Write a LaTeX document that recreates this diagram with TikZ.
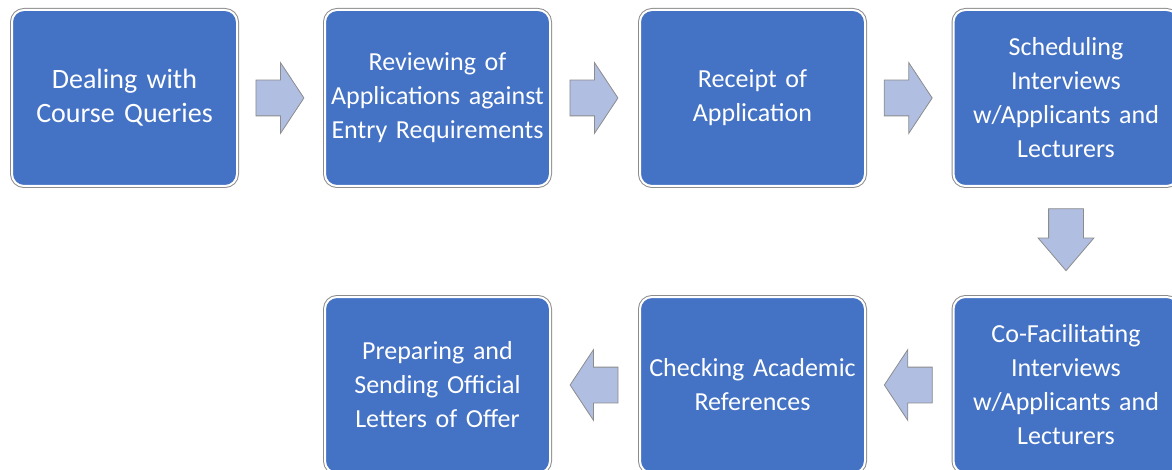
\documentclass[tikz,border=0pt]{standalone}
\usepackage{fontspec}
\setmainfont{Carlito}
\usetikzlibrary{shapes.arrows,calc}
\definecolor{stage_blue}{RGB}{68, 114, 196}
\definecolor{arrow_blue}{RGB}{176, 190, 226}
\definecolor{edge_grey}{RGB}{140, 140, 140}
\tikzstyle{stage}=[rectangle,rounded corners=12pt,fill=stage_blue,draw=white,
  line width=2pt,preaction={draw=edge_grey,line width=4pt},text=white,
  align=center,text width=219pt,minimum width=225pt,minimum height=176pt,
  inner sep=0pt,font=\fontsize{26}{34}\selectfont]
\tikzstyle{rarrow}=[single arrow,fill=arrow_blue,draw=edge_grey,line width=0.8pt,
  inner xsep=0pt,inner ysep=17.5pt,minimum height=48pt,
  single arrow head extend=17.5pt,single arrow tip angle=113]
\tikzstyle{darrow}=[rarrow,shape border rotate=270,minimum height=62pt,
  inner xsep=17pt,inner ysep=0pt,single arrow head extend=10.5pt,
  single arrow tip angle=81]
\tikzstyle{larrow}=[rarrow,shape border rotate=180]
\begin{document}
\begin{tikzpicture}[x=1pt,y=-1pt]
    \useasboundingbox (0,0) rectangle (1172,470);
    \clip (0,0) rectangle (1172,470);
    \node [style=stage,font=\fontsize{28}{34}\selectfont] (1) at (124.5, 98) {Dealing with\\Course Queries};
    \node [style=stage] (2) at (437.5, 98) {Reviewing of\\Applications against\\Entry Requirements};
    \node [style=stage] (3) at (752.5, 98) {Receipt of\\Application};
    \node [style=stage] (4) at (1066, 98) {Scheduling\\Interviews\\w/Applicants and\\Lecturers};
    \node [style=stage] (5) at (1066, 385) {Co-Facilitating\\Interviews\\w/Applicants and\\Lecturers};
    \node [style=stage] (6) at (752.5, 385) {Checking Academic\\References};
    \node [style=stage] (7) at (437.5, 385) {Preparing and\\Sending Official\\Letters of Offer};
    \node [style=rarrow,xshift=-7pt] (a1) at ($(1.east)!0.5!(2.west)$) {};
    \node [style=rarrow,xshift=-7pt] (a2) at ($(2.east)!0.5!(3.west)$) {};
    \node [style=rarrow,xshift=-7pt] (a3) at ($(3.east)!0.5!(4.west)$) {};
    \node [style=darrow,yshift=12pt] (a4) at ($(4.south)!0.5!(5.north)$) {};
    \node [style=larrow,xshift=5pt] (a5) at ($(5.west)!0.5!(6.east)$) {};
    \node [style=larrow,xshift=5pt] (a6) at ($(6.west)!0.5!(7.east)$) {};
  \end{tikzpicture}
\end{document}
